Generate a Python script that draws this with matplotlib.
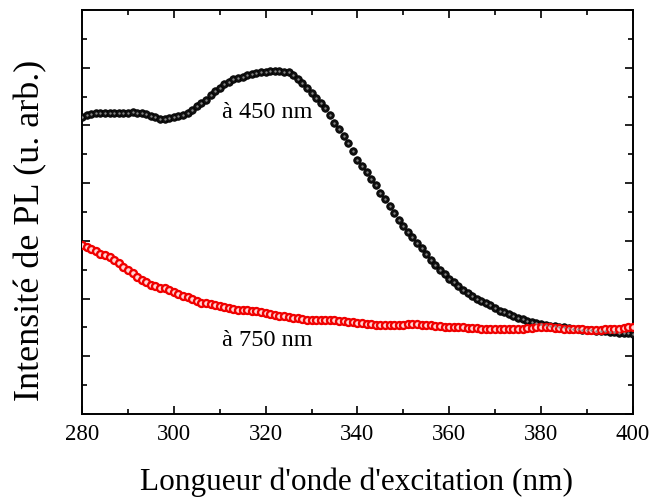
#!/usr/bin/env python3
"""PL excitation spectra detected at 450 nm and 750 nm."""

import matplotlib

matplotlib.use("Agg")
import matplotlib.pyplot as plt
from matplotlib.ticker import MultipleLocator

# excitation wavelength (nm), one point per nm
wavelength = list(range(280, 401))

# detection at 450 nm (arb. units)
pl_450 = [
    5.15, 5.18, 5.20, 5.21, 5.21, 5.22, 5.22, 5.22, 5.22, 5.22,
    5.22, 5.23, 5.22, 5.21, 5.19, 5.16, 5.14, 5.12, 5.12, 5.13,
    5.14, 5.16, 5.18, 5.22, 5.27, 5.33, 5.39, 5.44, 5.52, 5.59,
    5.65, 5.71, 5.76, 5.80, 5.82, 5.84, 5.87, 5.89, 5.91, 5.92,
    5.93, 5.94, 5.94, 5.94, 5.93, 5.92, 5.88, 5.81, 5.73, 5.65,
    5.56, 5.47, 5.39, 5.30, 5.18, 5.05, 4.94, 4.82, 4.69, 4.55,
    4.40, 4.30, 4.19, 4.08, 3.96, 3.83, 3.72, 3.60, 3.48, 3.37,
    3.26, 3.15, 3.06, 2.96, 2.87, 2.78, 2.67, 2.58, 2.50, 2.42,
    2.34, 2.28, 2.21, 2.15, 2.10, 2.05, 2.00, 1.96, 1.92, 1.88,
    1.83, 1.79, 1.76, 1.73, 1.70, 1.67, 1.65, 1.62, 1.60, 1.58,
    1.56, 1.54, 1.53, 1.52, 1.51, 1.50, 1.49, 1.48, 1.47, 1.46,
    1.46, 1.45, 1.44, 1.44, 1.43, 1.42, 1.42, 1.41, 1.40, 1.40,
    1.39,
]

# detection at 750 nm (arb. units)
pl_750 = [
    2.92, 2.90, 2.86, 2.82, 2.78, 2.75, 2.72, 2.67, 2.61, 2.55,
    2.50, 2.44, 2.38, 2.33, 2.28, 2.24, 2.21, 2.19, 2.18, 2.15,
    2.11, 2.08, 2.05, 2.02, 1.99, 1.96, 1.93, 1.92, 1.91, 1.89,
    1.87, 1.85, 1.83, 1.82, 1.81, 1.81, 1.80, 1.79, 1.78, 1.76,
    1.75, 1.73, 1.71, 1.70, 1.69, 1.68, 1.67, 1.66, 1.64, 1.63,
    1.63, 1.63, 1.63, 1.63, 1.63, 1.63, 1.62, 1.61, 1.60, 1.59,
    1.58, 1.57, 1.56, 1.56, 1.55, 1.54, 1.54, 1.54, 1.54, 1.55,
    1.55, 1.56, 1.56, 1.56, 1.55, 1.55, 1.54, 1.53, 1.52, 1.51,
    1.50, 1.50, 1.50, 1.50, 1.49, 1.49, 1.49, 1.48, 1.48, 1.48,
    1.47, 1.47, 1.47, 1.47, 1.47, 1.48, 1.48, 1.49, 1.49, 1.50,
    1.50, 1.50, 1.50, 1.49, 1.49, 1.48, 1.48, 1.47, 1.47, 1.47,
    1.46, 1.46, 1.46, 1.46, 1.47, 1.47, 1.47, 1.48, 1.49, 1.50,
    1.50,
]

x_ticks = [280, 300, 320, 340, 360, 380, 400]

plt.rcParams["font.family"] = ["Liberation Serif", "DejaVu Serif"]

fig = plt.figure(figsize=(6.51, 5.0), dpi=100)
ax = fig.add_axes([0.126, 0.172, 0.846, 0.808])

# black glossy spheres
ax.plot(wavelength, pl_450, ls="none", marker="o", ms=5.4,
        mfc="#111111", mec="black", mew=0.6, zorder=3)
ax.plot(wavelength, pl_450, ls="none", marker="o", ms=1.7,
        mfc="#8a8a8a", mec="none", zorder=4)

# red circles with light centre
ax.plot(wavelength, pl_750, ls="none", marker="o", ms=5.0,
        mfc="#ffd6d6", mec="#f00000", mew=1.7, zorder=3)

ax.text(310.5, 5.22, "à 450 nm", fontsize=17.5, va="center", ha="left")
ax.text(310.5, 1.28, "à 750 nm", fontsize=17.5, va="center", ha="left")

ax.set_xlim(280, 400)
ax.set_ylim(0, 7)
ax.set_xticks(x_ticks)
ax.xaxis.set_minor_locator(MultipleLocator(10))
ax.yaxis.set_major_locator(MultipleLocator(1))
ax.yaxis.set_minor_locator(MultipleLocator(0.5))
ax.tick_params(which="both", direction="in", top=True, right=True,
               labelleft=False, width=1.2)
ax.tick_params(which="major", length=6, labelsize=16.5, pad=7)
ax.tick_params(which="minor", length=3.5)
for s in ax.spines.values():
    s.set_linewidth(1.4)

ax.set_xlabel("Longueur d'onde d'excitation (nm)", fontsize=22.5, va="center")
ax.set_ylabel("Intensité de PL (u. arb.)", fontsize=26, va="center")
ax.xaxis.set_label_coords(0.498, -0.168)
ax.yaxis.set_label_coords(-0.093, 0.455)

fig.savefig("out.png", dpi=100)
